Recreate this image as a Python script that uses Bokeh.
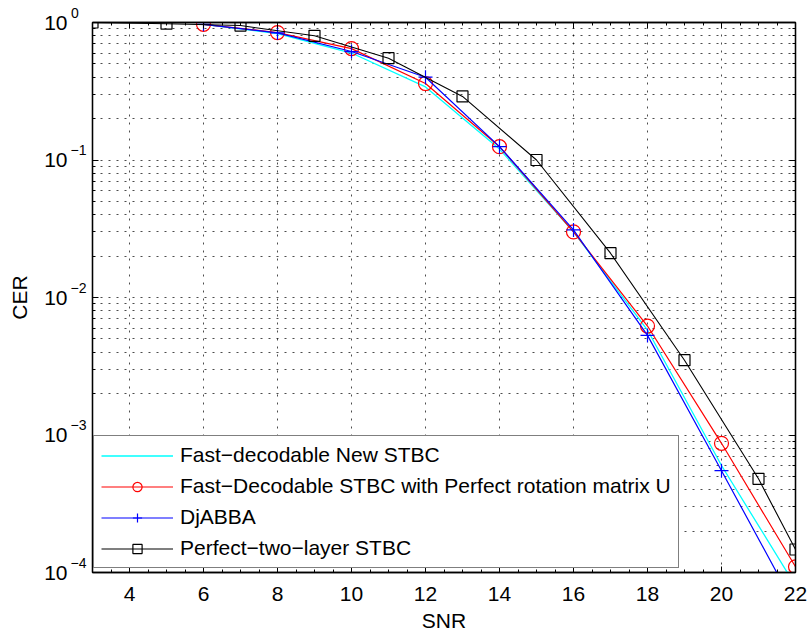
import numpy as np
from bokeh.plotting import figure
from bokeh.models import (Range1d, FixedTicker, LogAxis, LinearAxis, Legend, LegendItem)
from bokeh.embed import file_html
from bokeh.resources import INLINE

# ---- data ----
snr = [6, 8, 10, 12, 14, 16, 18, 20, 22]
cer_fast_new = [0.97, 0.83, 0.60, 0.34, 0.12, 0.030, 0.0058, 6.0e-4, 8.0e-5]
cer_fast_perfect = [0.97, 0.845, 0.646, 0.36, 0.125, 0.030, 0.0062, 8.7e-4, 1.1e-4]
cer_djabba = [0.97, 0.84, 0.615, 0.40, 0.125, 0.031, 0.0053, 5.5e-4, 5.6e-5]
snr_two_layer = [3, 5, 7, 9, 11, 13, 15, 17, 19, 21, 22]
cer_two_layer = [1.0, 0.98, 0.95, 0.80, 0.55, 0.29, 0.10, 0.021, 0.0035, 4.8e-4, 1.47e-4]

x_ticks = [4, 6, 8, 10, 12, 14, 16, 18, 20, 22]
x_minor = [v / 2 for v in range(6, 45)]
y_ticks = [1e-4, 1e-3, 1e-2, 1e-1, 1.0]
y_tick_base = "10"
y_tick_exponents = ["\u22124", "\u22123", "\u22122", "\u22121", "0\u2007"]
y_minor = [k * 10.0 ** d for d in range(-4, 0) for k in range(2, 10)]

names = ["Fast\u2212decodable New STBC",
         "Fast\u2212Decodable STBC with Perfect rotation matrix U",
         "DjABBA",
         "Perfect\u2212two\u2212layer STBC"]

FONT = "Liberation Sans"

W, H = 809, 637
p = figure(width=W, height=H, output_backend="svg", toolbar_location=None,
           y_axis_type="log", x_range=Range1d(3, 22), y_range=Range1d(1e-4, 1),
           min_border_left=92, min_border_right=14, min_border_top=22, min_border_bottom=65)
p.outline_line_color = "black"
p.outline_line_width = 1.3

xt = FixedTicker(ticks=x_ticks, minor_ticks=x_minor)
yt = FixedTicker(ticks=y_ticks, minor_ticks=y_minor)


def style_ticks(ax):
    ax.major_tick_in = 6
    ax.major_tick_out = 0
    ax.minor_tick_in = 3
    ax.minor_tick_out = 0
    ax.axis_line_width = 1.3
    ax.major_tick_line_width = 1


def style_text(ax, size="21px"):
    ax.major_label_text_font = FONT
    ax.major_label_text_font_size = size
    ax.major_label_text_color = "black"
    ax.axis_label_text_font = FONT
    ax.axis_label_text_font_size = "21px"
    ax.axis_label_text_font_style = "normal"
    ax.axis_label_text_color = "black"


# bottom axis
for ax in p.xaxis:
    ax.ticker = xt
    style_ticks(ax)
    style_text(ax)
    ax.axis_label = "SNR"
    ax.major_label_standoff = 14
    ax.axis_label_standoff = 5

# inner left axis: real ticks + raised exponents
for ax in p.yaxis:
    ax.ticker = yt
    style_ticks(ax)
    style_text(ax, "14px")
    ax.major_label_overrides = {v: e + "\n\u2007" for v, e in zip(y_ticks, y_tick_exponents)}
    ax.major_label_standoff = 6

# outer left axis: the "10" base of each label, and the axis title
base_axis = LogAxis(ticker=FixedTicker(ticks=y_ticks),
                    major_label_overrides={v: y_tick_base for v in y_ticks},
                    major_tick_in=0, major_tick_out=0, minor_tick_in=0, minor_tick_out=0,
                    axis_line_color=None, major_label_standoff=0,
                    axis_label="CER", axis_label_standoff=10)
style_text(base_axis)
p.add_layout(base_axis, "left")

# box axes (right / top) with inward ticks, no labels
ra = LogAxis(ticker=yt, major_label_overrides={v: "" for v in y_ticks}, major_label_standoff=0)
ta = LinearAxis(ticker=xt, major_label_overrides={v: "" for v in x_ticks}, major_label_standoff=0)
style_ticks(ra)
style_ticks(ta)
p.add_layout(ra, "right")
p.add_layout(ta, "above")

# grids (MATLAB dotted)
p.xgrid.ticker = FixedTicker(ticks=x_ticks)
p.xgrid.grid_line_color = "black"
p.xgrid.grid_line_alpha = 0.7
p.xgrid.grid_line_dash = "2 6"
p.ygrid.ticker = yt
p.ygrid.grid_line_color = "black"
p.ygrid.grid_line_alpha = 0.7
p.ygrid.grid_line_dash = "2 6"
p.ygrid.minor_grid_line_color = "black"
p.ygrid.minor_grid_line_alpha = 0.7
p.ygrid.minor_grid_line_dash = "2 6"

# series
r_cyan = p.line(snr, cer_fast_new, line_color="#00FFFF", line_width=1.3)

r_red_l = p.line(snr, cer_fast_perfect, line_color="#FF0000", line_width=1.2)
r_red_m = p.scatter(snr, cer_fast_perfect, marker="circle", size=14, fill_color=None,
                    line_color="#FF0000", line_width=1.2)

r_blue_l = p.line(snr, cer_djabba, line_color="#0000FF", line_width=1.2)
r_blue_m = p.scatter(snr, cer_djabba, marker="cross", size=14,
                     line_color="#0000FF", line_width=1.2)

r_blk_l = p.line(snr_two_layer, cer_two_layer, line_color="black", line_width=1.1)
r_blk_m = p.scatter(snr_two_layer, cer_two_layer, marker="square", size=11, fill_color=None,
                    line_color="black", line_width=1.2)

legend = Legend(items=[
    LegendItem(label=names[0], renderers=[r_cyan]),
    LegendItem(label=names[1], renderers=[r_red_l, r_red_m]),
    LegendItem(label=names[2], renderers=[r_blue_l, r_blue_m]),
    LegendItem(label=names[3], renderers=[r_blk_l, r_blk_m]),
], location=(1, 4), padding=7, spacing=7, margin=0,
    glyph_width=72, glyph_height=23, label_height=23, label_standoff=7,
    label_text_font=FONT, label_text_font_size="21px", label_text_color="black",
    border_line_color="black", border_line_width=1.5, background_fill_alpha=1.0)
p.add_layout(legend, "center")

open("out.html", "w").write(file_html(p, INLINE))
